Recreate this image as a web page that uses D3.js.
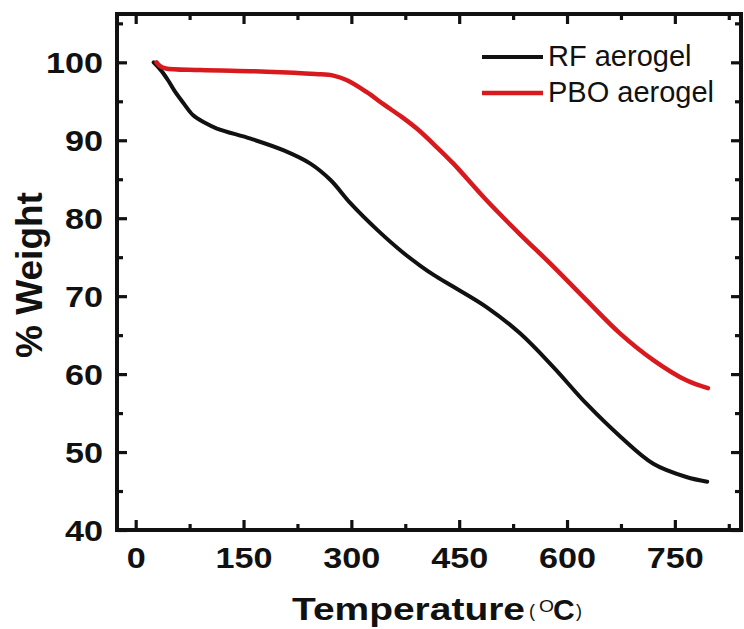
<!DOCTYPE html>
<html>
<head>
<meta charset="utf-8">
<script src="https://cdn.jsdelivr.net/npm/d3@7"></script>
<style>
  html, body { margin: 0; padding: 0; background: #fff; }
  svg { display: block; }
  text { font-family: "Liberation Sans", Arial, sans-serif; fill: #111; }
</style>
</head>
<body>
<svg id="chart" width="744" height="629"></svg>
<script>
// ---- data ----
const rfTemp   = [25, 35, 45, 55, 67, 80, 95, 113, 160, 206, 243, 271, 299, 336, 373, 396, 415, 442, 488, 535, 581, 627, 674, 720, 766, 795];
const rfWeight = [100, 99.0, 97.7, 96.2, 94.7, 93.2, 92.3, 91.5, 90.2, 88.7, 87.0, 84.9, 81.9, 78.5, 75.5, 73.9, 72.7, 71.2, 68.6, 65.2, 60.9, 56.2, 52.0, 48.5, 46.8, 46.2];

const pboTemp   = [29, 34, 42, 90, 182, 250, 275, 294, 321, 345, 370, 391, 419, 442, 488, 535, 581, 627, 674, 720, 766, 796];
const pboWeight = [100, 99.5, 99.2, 99.0, 98.8, 98.5, 98.3, 97.7, 96.2, 94.6, 93.0, 91.5, 89.1, 87.0, 82.3, 77.9, 73.8, 69.5, 65.2, 61.8, 59.2, 58.2];

const xMajorTicks = [0, 150, 300, 450, 600, 750];
const xMinorTicks = [75, 225, 375, 525, 675, 825];
const yMajorTicks = [40, 50, 60, 70, 80, 90, 100];
const yMinorTicks = [45, 55, 65, 75, 85, 95, 105];

const seriesNames = ["RF aerogel", "PBO aerogel"];
const seriesColors = ["#111111", "#d81a1e"];

// ---- layout ----
const L = 117, R = 741, T = 14, B = 530;
const svg = d3.select("#chart");
svg.append("rect").attr("width", 744).attr("height", 629).attr("fill", "#fff");

const x = d3.scaleLinear().domain([-26, 842]).range([L, R]);
const y = d3.scaleLinear().domain([40, 106.2]).range([B, T]);

// ---- curves ----
const line = d3.line().x(d => x(d[0])).y(d => y(d[1])).curve(d3.curveCatmullRom.alpha(0.5));
const rfData = rfTemp.map((t, i) => [t, rfWeight[i]]);
const pboData = pboTemp.map((t, i) => [t, pboWeight[i]]);

svg.append("path").datum(rfData).attr("d", line)
  .attr("fill", "none").attr("stroke", seriesColors[0]).attr("stroke-width", 4)
  .attr("stroke-linejoin", "round").attr("stroke-linecap", "round");
svg.append("path").datum(pboData).attr("d", line)
  .attr("fill", "none").attr("stroke", seriesColors[1]).attr("stroke-width", 4.5)
  .attr("stroke-linejoin", "round").attr("stroke-linecap", "round");

// ---- axes ----
function styleAxis(g) {
  g.select(".domain").remove();
  g.selectAll(".tick line").attr("stroke", "#111").attr("stroke-width", 3.2);
}
const majLen = 10, minLen = 6;

// bottom
const gb = svg.append("g").attr("transform", `translate(0,${B})`)
  .call(d3.axisBottom(x).tickValues(xMajorTicks).tickSizeInner(-majLen).tickSizeOuter(0).tickFormat(d3.format("d")));
styleAxis(gb);
gb.selectAll(".tick text")
  .attr("y", 38).attr("dy", null)
  .attr("font-size", 30).attr("font-weight", "bold")
  .attr("font-family", "'Liberation Sans', Arial, sans-serif")
  .style("fill", "#111")
  .attr("textLength", d => String(d).length * 19)
  .attr("lengthAdjust", "spacingAndGlyphs");
svg.append("g").attr("transform", `translate(0,${B})`)
  .call(d3.axisBottom(x).tickValues(xMinorTicks).tickSizeInner(-minLen).tickSizeOuter(0).tickFormat(""))
  .call(styleAxis);

// top
svg.append("g").attr("transform", `translate(0,${T})`)
  .call(d3.axisTop(x).tickValues(xMajorTicks).tickSizeInner(-majLen).tickSizeOuter(0).tickFormat(""))
  .call(styleAxis);
svg.append("g").attr("transform", `translate(0,${T})`)
  .call(d3.axisTop(x).tickValues(xMinorTicks).tickSizeInner(-minLen).tickSizeOuter(0).tickFormat(""))
  .call(styleAxis);

// left
const gl = svg.append("g").attr("transform", `translate(${L},0)`)
  .call(d3.axisLeft(y).tickValues(yMajorTicks).tickSizeInner(-majLen).tickSizeOuter(0).tickFormat(d3.format("d")));
styleAxis(gl);
gl.selectAll(".tick text")
  .attr("x", -14).attr("dy", "0.34em")
  .attr("font-size", 30).attr("font-weight", "bold")
  .attr("font-family", "'Liberation Sans', Arial, sans-serif")
  .style("fill", "#111")
  .attr("textLength", d => String(d).length * 19)
  .attr("lengthAdjust", "spacingAndGlyphs");
svg.append("g").attr("transform", `translate(${L},0)`)
  .call(d3.axisLeft(y).tickValues(yMinorTicks).tickSizeInner(-minLen).tickSizeOuter(0).tickFormat(""))
  .call(styleAxis);

// right
svg.append("g").attr("transform", `translate(${R},0)`)
  .call(d3.axisRight(y).tickValues(yMajorTicks).tickSizeInner(-majLen).tickSizeOuter(0).tickFormat(""))
  .call(styleAxis);
svg.append("g").attr("transform", `translate(${R},0)`)
  .call(d3.axisRight(y).tickValues(yMinorTicks).tickSizeInner(-minLen).tickSizeOuter(0).tickFormat(""))
  .call(styleAxis);

// frame
svg.append("rect").attr("x", L).attr("y", T).attr("width", R - L).attr("height", B - T)
  .attr("fill", "none").attr("stroke", "#111").attr("stroke-width", 4);

// ---- axis titles ----
svg.append("text")
  .attr("transform", `translate(42,275) rotate(-90)`)
  .attr("text-anchor", "middle")
  .attr("font-size", 37).attr("font-weight", "bold")
  .text("% Weight");

const xl = svg.append("g");
xl.append("text").attr("x", 292).attr("y", 620)
  .attr("font-size", 32).attr("font-weight", "bold")
  .attr("textLength", 233).attr("lengthAdjust", "spacingAndGlyphs")
  .text("Temperature");
xl.append("text").attr("x", 529).attr("y", 617).attr("font-size", 18).text("(");
xl.append("text").attr("x", 539).attr("y", 612).attr("font-size", 16)
  .attr("textLength", 15).attr("lengthAdjust", "spacingAndGlyphs").text("O");
xl.append("text").attr("x", 553).attr("y", 620).attr("font-size", 30).attr("font-weight", "bold").text("C");
xl.append("text").attr("x", 576).attr("y", 617).attr("font-size", 18).text(")");

// ---- legend ----
const legY = [57, 93];
seriesNames.forEach((name, i) => {
  svg.append("line").attr("x1", 482).attr("x2", 543).attr("y1", legY[i]).attr("y2", legY[i])
    .attr("stroke", seriesColors[i]).attr("stroke-width", i === 0 ? 4 : 4.5);
  svg.append("text").attr("x", 548).attr("y", legY[i] + 9)
    .attr("font-size", 29).text(name);
});
</script>
</body>
</html>
